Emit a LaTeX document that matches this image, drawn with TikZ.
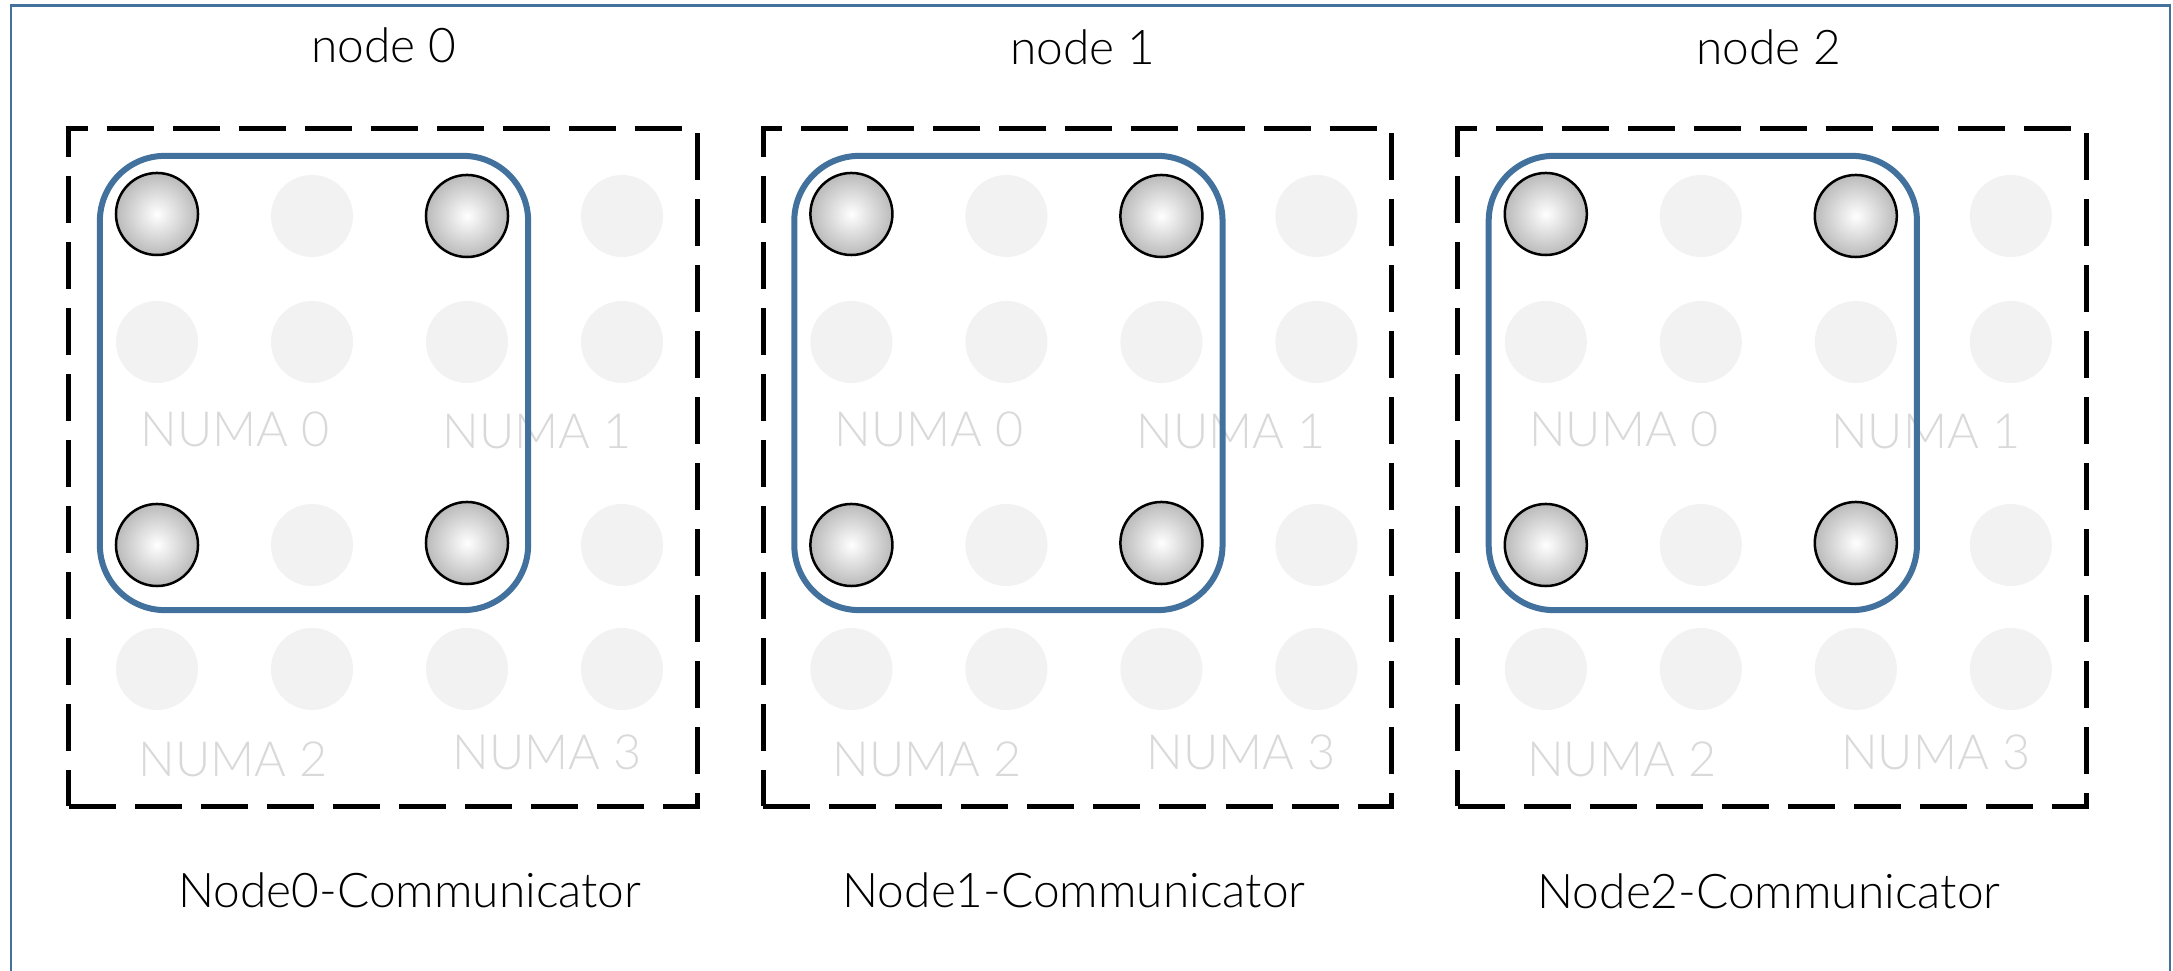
\documentclass[tikz,border=0pt]{standalone}
\usepackage{fontspec}
\setmainfont{Lato Light}
\definecolor{frameblue}{HTML}{41719C}
\definecolor{ghostgray}{HTML}{F2F2F2}
\definecolor{numagray}{HTML}{D9D9D9}
\begin{document}
\begin{tikzpicture}[x=0.01cm,y=-0.01cm,
  ghost/.style={circle, fill=ghostgray, minimum size=0.82cm, inner sep=0pt},
  core/.style={circle, draw=black, line width=0.025cm, inner color=white,
    outer color=black!27, minimum size=0.82cm, inner sep=0pt},
  numa/.style={text=numagray, font=\fontsize{13.8}{16}\selectfont, anchor=base, inner sep=0pt},
  label/.style={text=black, font=\fontsize{13.6}{16}\selectfont, anchor=base, inner sep=0pt},
  nodebox/.style={draw=black, line width=0.05cm, dash pattern=on 0.47cm off 0.19cm,
    minimum width=6.28cm, minimum height=6.77cm, inner sep=0pt},
  commbox/.style={draw=frameblue, line width=0.06cm, rounded corners=0.65cm,
    minimum width=4.28cm, minimum height=4.54cm, inner sep=0pt},
]
\useasboundingbox (0,0) rectangle (2173,971);
% outer frame, open towards the bottom edge
\draw[frameblue, line width=0.025cm] (11,971) -- (11,5.5) -- (2170,5.5) -- (2170,971);

\foreach \k in {0,1,2} {
  \begin{scope}[xshift=\k*6.94cm]
    % idle cores
    \foreach \c/\r in {243/216, 553/216, 88/342, 243/342, 398/342, 553/342,
                       243/545, 553/545, 88/669, 243/669, 398/669, 553/669}
      \node[ghost] (g\k-\c-\r) at (69+\c,\r) {};
    % NUMA domain labels
    \node[numa] (numa\k-0) at (69+166,447) {NUMA 0};
    \node[numa] (numa\k-1) at (69+468,449) {NUMA 1};
    \node[numa] (numa\k-2) at (69+164,777) {NUMA 2};
    \node[numa] (numa\k-3) at (69+478,770) {NUMA 3};
    % node boundary and communicator group
    \node[nodebox] (box\k) at (69+314,467.5) {};
    \node[commbox] (comm\k) at (69+245,383) {};
    % cores taking part in the communicator
    \foreach \c/\r in {88/214, 398/216, 88/545, 398/543}
      \node[core] (a\k-\c-\r) at (69+\c,\r) {};
  \end{scope}
}

\node[label] (t0) at (384,63) {node 0};
\node[label] (t1) at (1083,65) {node 1};
\node[label] (t2) at (1769,65) {node 2};

\node[label] (c0) at (410,908) {Node0-Communicator};
\node[label] (c1) at (1074,908) {Node1-Communicator};
\node[label] (c2) at (1769,909) {Node2-Communicator};
\end{tikzpicture}
\end{document}
